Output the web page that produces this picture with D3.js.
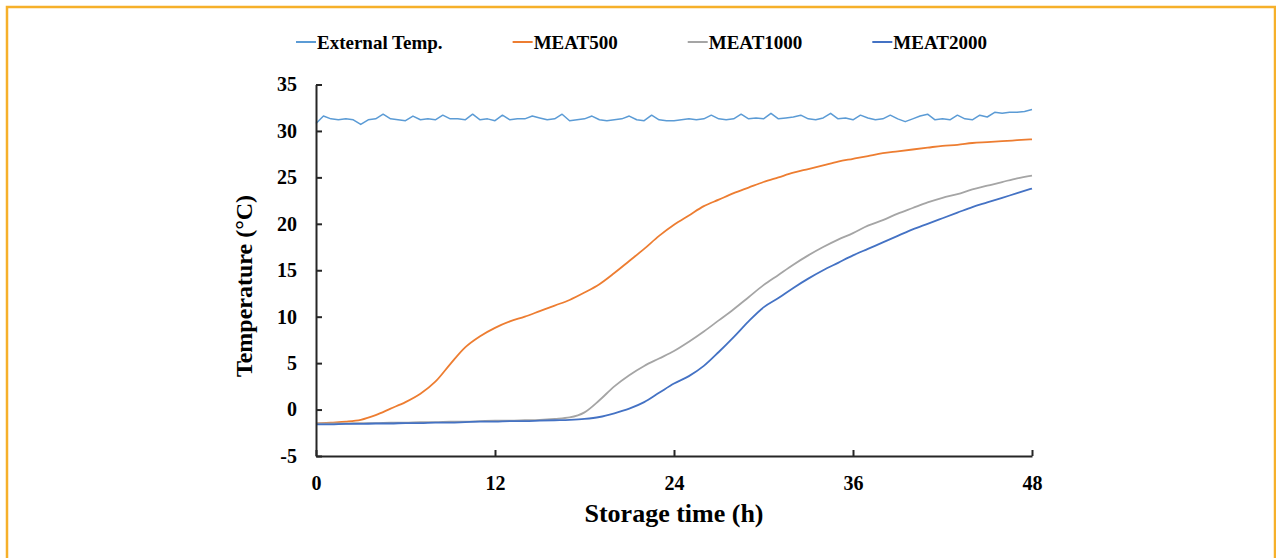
<!DOCTYPE html>
<html>
<head>
<meta charset="utf-8">
<style>
  body { margin: 0; background: #fff; }
  svg text { font-family: "Liberation Serif", "Times New Roman", serif; font-weight: bold; fill: #000; }
</style>
</head>
<body>
<svg id="container" width="1276" height="558"></svg>

<script src="https://d3js.org/d3.v7.min.js"></script>
<script>
  // Storage temperature of meat packages vs external temperature

  // hourly readings (h) for the three meat packages
  const hours = d3.range(0, 49)
  const meat500 = [-1.5, -1.4, -1.3, -1.1, -0.6, 0.1, 0.8, 1.7, 3.0, 4.9,
    6.7, 7.9, 8.8, 9.5, 10.0, 10.6, 11.2, 11.8, 12.6, 13.5,
    14.7, 16.0, 17.3, 18.7, 19.9, 20.9, 21.9, 22.6, 23.3, 23.9,
    24.5, 25.0, 25.5, 25.9, 26.3, 26.7, 27.0, 27.3, 27.6, 27.8,
    28.0, 28.2, 28.4, 28.5, 28.7, 28.8, 28.9, 29.0, 29.1]
  const meat1000 = [-1.5, -1.5, -1.5, -1.45, -1.45, -1.4, -1.4, -1.35, -1.35, -1.3,
    -1.3, -1.25, -1.2, -1.2, -1.15, -1.1, -1.0, -0.85, -0.3, 1.0,
    2.5, 3.7, 4.7, 5.5, 6.3, 7.3, 8.4, 9.6, 10.8, 12.1,
    13.4, 14.5, 15.6, 16.6, 17.5, 18.3, 19.0, 19.8, 20.4, 21.1,
    21.7, 22.3, 22.8, 23.2, 23.7, 24.1, 24.5, 24.9, 25.2]
  const meat2000 = [-1.6, -1.6, -1.55, -1.55, -1.5, -1.5, -1.45, -1.45, -1.4, -1.4,
    -1.35, -1.3, -1.3, -1.25, -1.25, -1.2, -1.15, -1.1, -1.0, -0.8,
    -0.4, 0.1, 0.8, 1.8, 2.8, 3.6, 4.7, 6.2, 7.8, 9.5,
    11.0, 12.0, 13.1, 14.1, 15.0, 15.8, 16.6, 17.3, 18.0, 18.7,
    19.4, 20.0, 20.6, 21.2, 21.8, 22.3, 22.8, 23.3, 23.8]

  // external temperature every half hour
  const extStep = 0.5
  const extTemp = [30.8, 31.6, 31.3, 31.2, 31.3, 31.2, 30.7, 31.2, 31.3, 31.8,
    31.3, 31.2, 31.1, 31.6, 31.2, 31.3, 31.2, 31.7, 31.3, 31.3,
    31.2, 31.8, 31.2, 31.3, 31.1, 31.7, 31.2, 31.3, 31.3, 31.6,
    31.4, 31.2, 31.3, 31.8, 31.1, 31.2, 31.3, 31.6, 31.2, 31.1,
    31.2, 31.3, 31.6, 31.2, 31.1, 31.7, 31.2, 31.1, 31.1, 31.2,
    31.3, 31.2, 31.3, 31.7, 31.3, 31.2, 31.3, 31.8, 31.3, 31.4,
    31.3, 31.9, 31.3, 31.4, 31.5, 31.7, 31.3, 31.2, 31.4, 31.9,
    31.3, 31.4, 31.2, 31.7, 31.4, 31.2, 31.3, 31.7, 31.3, 31.0,
    31.3, 31.6, 31.8, 31.2, 31.3, 31.2, 31.7, 31.3, 31.2, 31.7,
    31.5, 32.0, 31.9, 32.0, 32.0, 32.1, 32.3]

  const xTicks = [0, 12, 24, 36, 48]
  const yTicks = [-5, 0, 5, 10, 15, 20, 25, 30, 35]

  const series = [
    { name: 'External Temp.', color: '#5B9BD5', width: 1.5, curve: d3.curveLinear,
      points: extTemp.map((v, i) => [i * extStep, v]) },
    { name: 'MEAT500', color: '#ED7D31', width: 1.8, curve: d3.curveMonotoneX,
      points: hours.map((h, i) => [h, meat500[i]]) },
    { name: 'MEAT1000', color: '#A5A5A5', width: 1.8, curve: d3.curveMonotoneX,
      points: hours.map((h, i) => [h, meat1000[i]]) },
    { name: 'MEAT2000', color: '#4472C4', width: 1.8, curve: d3.curveMonotoneX,
      points: hours.map((h, i) => [h, meat2000[i]]) }
  ]

  const svg = d3.select('#container')

  // orange frame round the figure
  svg.append('rect')
    .attr('x', 7).attr('y', 7)
    .attr('width', 1268).attr('height', 620)
    .attr('fill', 'none')
    .attr('stroke', '#F6B02A')
    .attr('stroke-width', 2.5)

  const xScale = d3.scaleLinear().domain([0, 48]).range([316, 1032])
  const yScale = d3.scaleLinear().domain([-5, 35]).range([456, 84.5])

  svg.append('g')
    .selectAll('path')
    .data(series)
    .enter()
    .append('path')
    .attr('d', d => d3.line()
      .x(p => xScale(p[0]))
      .y(p => yScale(p[1]))
      .curve(d.curve)(d.points))
    .attr('fill', 'none')
    .attr('stroke', d => d.color)
    .attr('stroke-width', d => d.width)
    .attr('stroke-linejoin', 'round')

  // axes, ticks point inward, plain hyphen for negatives
  const fmt = d => String(d)
  const xAxis = d3.axisBottom(xScale).tickValues(xTicks).tickFormat(fmt)
    .tickSizeInner(-6).tickSizeOuter(0).tickPadding(20)
  const yAxis = d3.axisLeft(yScale).tickValues(yTicks).tickFormat(fmt)
    .tickSizeInner(-6).tickSizeOuter(0).tickPadding(19)

  const gx = svg.append('g').attr('transform', 'translate(0,456)').call(xAxis)
  const gy = svg.append('g').attr('transform', 'translate(316,0)').call(yAxis)

  ;[gx, gy].forEach(g => {
    g.selectAll('path, line').attr('stroke', '#262626').attr('stroke-width', 2)
    g.selectAll('text')
      .style('font-family', '"Liberation Serif", serif')
      .style('font-weight', 'bold')
      .style('font-size', '20px')
      .attr('fill', '#000')
  })

  // axis titles
  svg.append('text')
    .attr('x', 674).attr('y', 522)
    .attr('text-anchor', 'middle')
    .style('font-size', '26px')
    .text('Storage time (h)')

  svg.append('text')
    .attr('transform', 'translate(252,286) rotate(-90)')
    .attr('text-anchor', 'middle')
    .style('font-size', '24px')
    .text('Temperature (°C)')

  // legend
  const legend = svg.append('g')
  let lx = 296
  series.forEach(s => {
    legend.append('line')
      .attr('x1', lx).attr('x2', lx + 20)
      .attr('y1', 42).attr('y2', 42)
      .attr('stroke', s.color)
      .attr('stroke-width', 2)
    const t = legend.append('text')
      .attr('x', lx + 21).attr('y', 48.5)
      .style('font-size', '19px')
      .text(s.name)
    lx += 21 + t.node().getComputedTextLength() + 70
  })
</script>
</body>
</html>
